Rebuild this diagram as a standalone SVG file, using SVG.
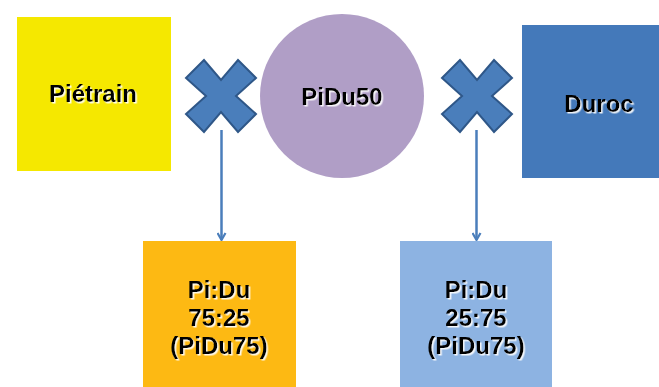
<svg xmlns="http://www.w3.org/2000/svg" width="659" height="387" viewBox="0 0 659 387">
<defs>
<style>
.t{font-family:"Liberation Sans",Arial,sans-serif;font-weight:bold;font-size:24px;fill:#000;text-anchor:middle;filter:url(#sh)}
.x{fill:#4A7EBB;stroke:#2F5788;stroke-width:2;stroke-linejoin:miter}
.c{stroke:#4A7EBB;stroke-width:2.5;fill:none;marker-end:url(#ah)}
</style>
<filter id="sh" x="-10%" y="-20%" width="130%" height="150%">
<feDropShadow dx="1.5" dy="1.5" stdDeviation="0.6" flood-color="#fff" flood-opacity="0.9"/>
</filter>
<marker id="ah" viewBox="0 0 10 10" refX="8" refY="5" markerWidth="4" markerHeight="4" orient="auto" markerUnits="strokeWidth">
<path d="M1,1 L8,5 L1,9" fill="none" stroke="#4A7EBB" stroke-width="2.2"/>
</marker>
<polygon id="cross" points="-35,-18 -17,-36 0,-16 17,-36 35,-18 15,0 35,18 17,36 0,16 -17,36 -35,18 -15,0"/>
</defs>
<g id="connectors">
<line class="c" x1="221.5" y1="130" x2="221.5" y2="240"/>
<line class="c" x1="476.5" y1="130" x2="476.5" y2="240"/>
</g>
<g id="pietrain">
<rect x="17" y="17" width="154" height="154" fill="#F5E800"/>
<text class="t" x="93" y="102">Piétrain</text>
</g>
<g id="cross1"><use href="#cross" class="x" x="221" y="96"/></g>
<g id="pidu50">
<circle cx="342" cy="96" r="82" fill="#B09EC6"/>
<text class="t" x="342" y="105">PiDu50</text>
</g>
<g id="cross2"><use href="#cross" class="x" x="477" y="96"/></g>
<g id="duroc">
<rect x="522" y="25" width="140" height="153" fill="#4479BA"/>
<text class="t" x="599" y="112">Duroc</text>
</g>
<g id="pidu75a">
<rect x="143" y="241" width="153" height="150" fill="#FDB913"/>
<text class="t" x="219" y="298">Pi:Du</text>
<text class="t" x="219" y="326">75:25</text>
<text class="t" x="219" y="354">(PiDu75)</text>
</g>
<g id="pidu75b">
<rect x="400" y="241" width="152" height="150" fill="#8DB3E2"/>
<text class="t" x="476" y="298">Pi:Du</text>
<text class="t" x="476" y="326">25:75</text>
<text class="t" x="476" y="354">(PiDu75)</text>
</g>
</svg>
